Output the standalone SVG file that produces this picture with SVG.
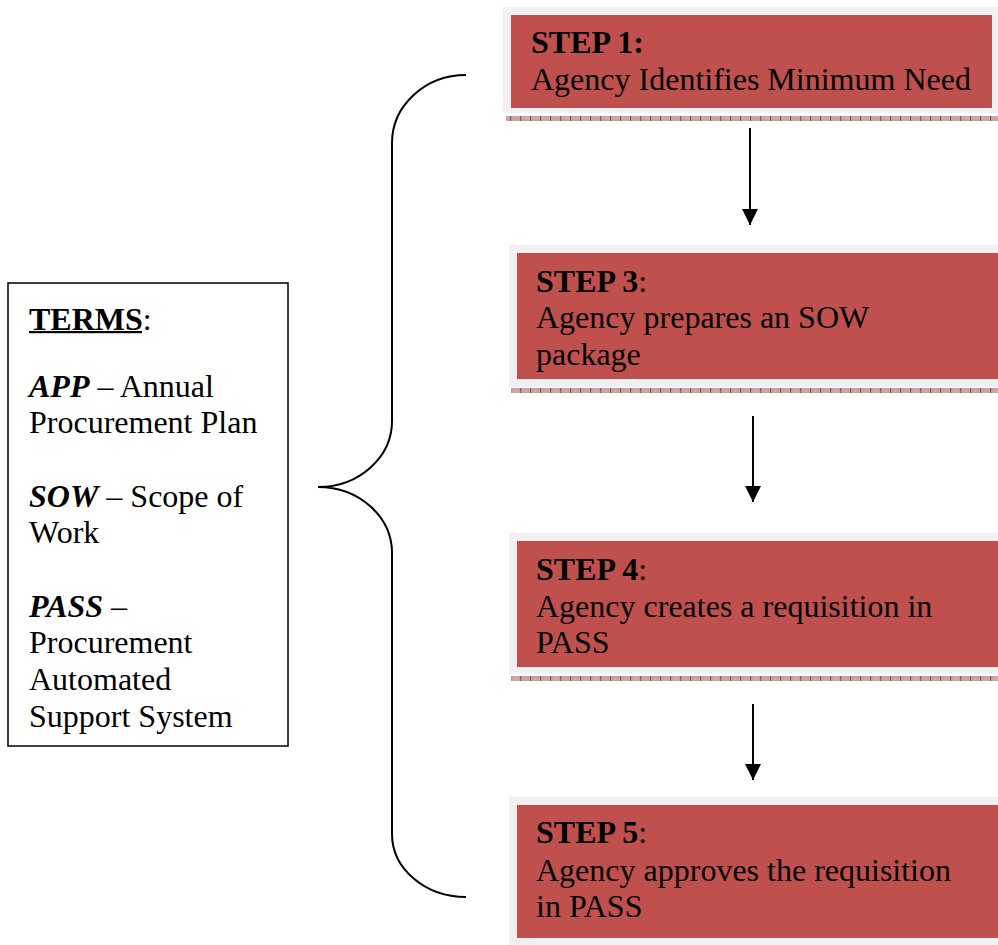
<svg xmlns="http://www.w3.org/2000/svg" width="998" height="945" viewBox="0 0 998 945">
<style>
.t{font-family:"Liberation Serif","Times New Roman",serif;font-size:32px;fill:#000}
.b{font-weight:bold}
.i{font-style:italic;font-weight:bold}
.frame{fill:#f1f1f1}
.red{fill:#c0504d}
.bar{fill:url(#hatch)}
.conn{stroke:#000;stroke-width:2;fill:none}
</style>
<defs>
<pattern id="hatch" patternUnits="userSpaceOnUse" width="10" height="6">
<rect width="10" height="6" fill="#c9a3a3"/>
<rect x="0" width="1.2" height="6" fill="#8a5a5a"/>
<rect x="5" y="1" width="1" height="1" fill="#e0c4c4"/>
<rect x="3" y="3" width="1" height="1" fill="#e0c4c4"/>
<rect x="7" y="3" width="1" height="1" fill="#e0c4c4"/>
</pattern>
<marker id="ah" markerUnits="userSpaceOnUse" markerWidth="18" markerHeight="18" refX="16" refY="8" orient="auto">
<path d="M0,0 L16,8 L0,16 Z" fill="#000"/>
</marker>
</defs>

<g id="terms">
<rect x="8" y="283" width="280" height="463" fill="#fff" stroke="#000" stroke-width="1.5"/>
<text class="t" x="29" y="330"><tspan class="b">TERMS</tspan>:</text>
<rect x="29" y="331" width="113" height="2.2" fill="#000"/>
<text class="t" x="29" y="397"><tspan class="i">APP</tspan> – Annual</text>
<text class="t" x="29" y="433">Procurement Plan</text>
<text class="t" x="29" y="507"><tspan class="i">SOW</tspan> – Scope of</text>
<text class="t" x="29" y="543">Work</text>
<text class="t" x="29" y="617"><tspan class="i">PASS</tspan> –</text>
<text class="t" x="29" y="653">Procurement</text>
<text class="t" x="29" y="690">Automated</text>
<text class="t" x="29" y="727">Support System</text>
</g>

<g id="step1">
<rect class="frame" x="503" y="7" width="495" height="106"/>
<rect class="red" x="511" y="15" width="481" height="93"/>
<rect class="bar" x="506" y="116" width="492" height="5"/>
<text class="t b" x="531" y="53">STEP 1:</text>
<text class="t" x="531" y="90">Agency Identifies Minimum Need</text>
</g>

<g id="step3">
<rect class="frame" x="509" y="245" width="489" height="142"/>
<rect class="red" x="517" y="253" width="481" height="126"/>
<rect class="bar" x="511" y="388" width="487" height="5"/>
<text class="t" x="536" y="292"><tspan class="b">STEP 3</tspan>:</text>
<text class="t" x="536" y="328">Agency prepares an SOW</text>
<text class="t" x="536" y="365">package</text>
</g>

<g id="step4">
<rect class="frame" x="509" y="533" width="489" height="141"/>
<rect class="red" x="517" y="541" width="481" height="126"/>
<rect class="bar" x="511" y="676" width="487" height="5"/>
<text class="t" x="536" y="580"><tspan class="b">STEP 4</tspan>:</text>
<text class="t" x="536" y="617">Agency creates a requisition in</text>
<text class="t" x="536" y="653">PASS</text>
</g>

<g id="step5">
<rect class="frame" x="509" y="797" width="489" height="148"/>
<rect class="red" x="517" y="805" width="481" height="133"/>
<text class="t" x="536" y="843"><tspan class="b">STEP 5</tspan>:</text>
<text class="t" x="536" y="881">Agency approves the requisition</text>
<text class="t" x="536" y="917">in PASS</text>
</g>

<g id="connectors">
<path class="conn" d="M466,75 A74,68 0 0 0 392,143 L392,421 A74,66 0 0 1 318,487 A74,66 0 0 1 392,553 L392,834 A74,63 0 0 0 466,897"/>
<line class="conn" x1="750" y1="128" x2="750" y2="225" marker-end="url(#ah)"/>
<line class="conn" x1="753" y1="416" x2="753" y2="502" marker-end="url(#ah)"/>
<line class="conn" x1="753" y1="704" x2="753" y2="780" marker-end="url(#ah)"/>
</g>
</svg>
